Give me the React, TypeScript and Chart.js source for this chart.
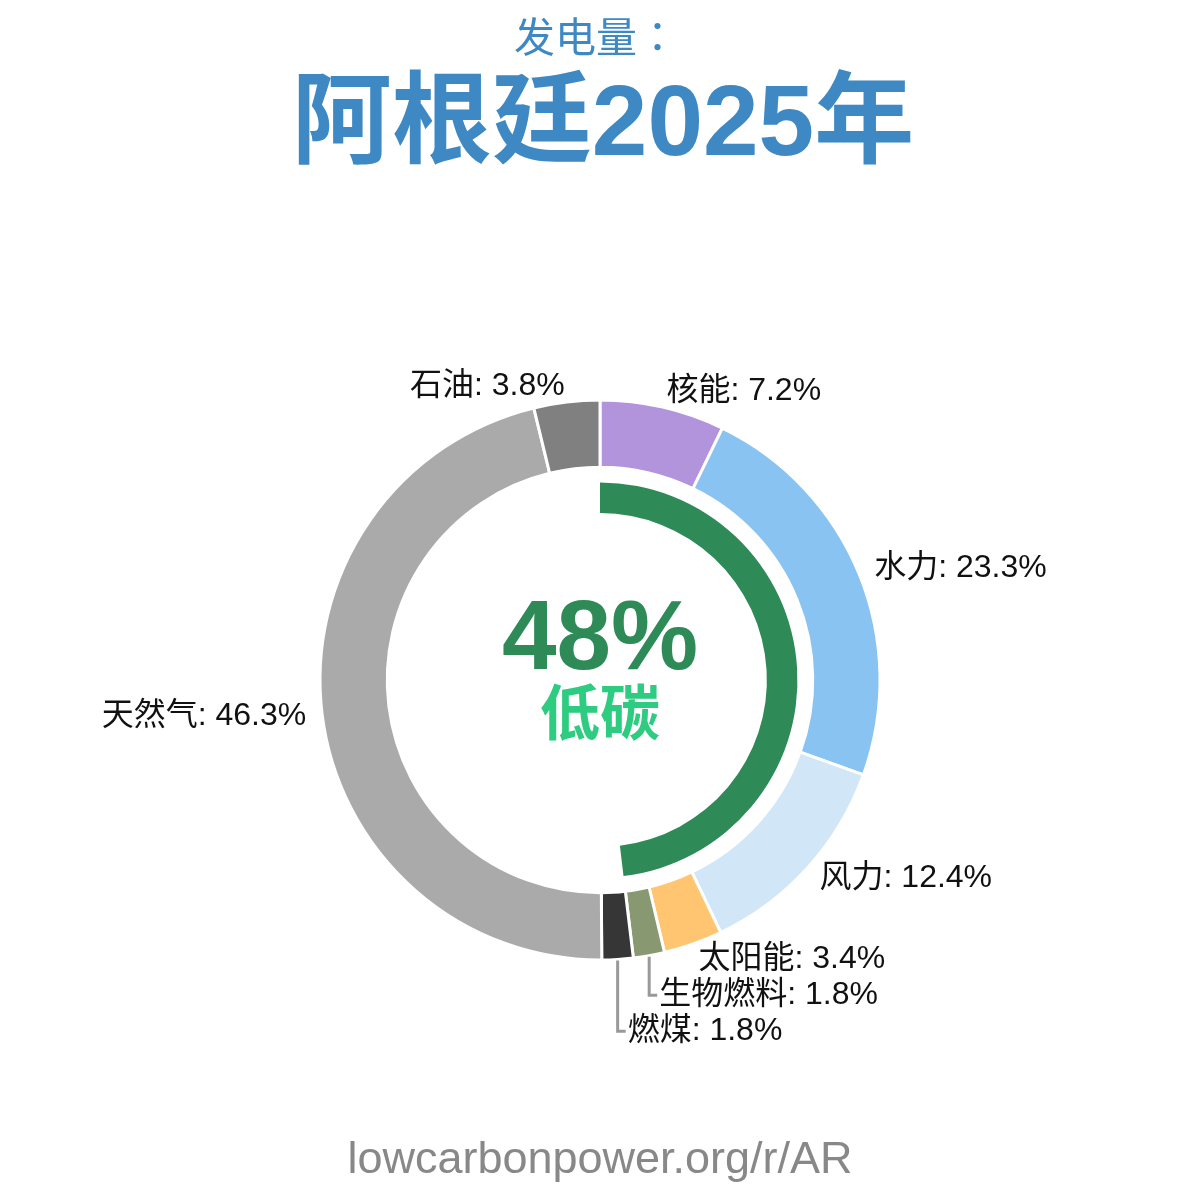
import React, { useEffect, useRef } from "react";
import { Chart, registerables } from "chart.js";

Chart.register(...registerables);

const categories = ["核能", "水力", "风力", "太阳能", "生物燃料", "燃煤", "天然气", "石油"];
const shares = [7.2, 23.3, 12.4, 3.4, 1.8, 1.8, 46.3, 3.8];
const colors = ["#b294dc", "#89c3f2", "#d1e6f7", "#ffc570", "#889871", "#363636", "#aaaaaa", "#808080"];
const lowCarbonShare = [48.1, 51.9];
const lowCarbonLabel = "48%";
const subtitle = "发电量：";
const title = "阿根廷2025年";
const centerSub = "低碳";
const footer = "lowcarbonpower.org/r/AR";

const FONT = '"Liberation Sans", Arial, "Noto Sans CJK SC", sans-serif';
const CJK_FONT = '"Noto Sans CJK JP", "Noto Sans CJK SC", sans-serif';

const textPlugin = {
  id: "textPlugin",
  afterDraw(chart: any) {
    const ctx = chart.ctx as CanvasRenderingContext2D;
    const meta = chart.getDatasetMeta(0);
    ctx.save();
    // titles
    ctx.textAlign = "center";
    ctx.textBaseline = "middle";
    ctx.fillStyle = "#3e89c4";
    ctx.font = `41px ${CJK_FONT}`;
    ctx.fillText(subtitle, 596, 36);
    ctx.font = `bold 100px ${FONT}`;
    ctx.fillText(title, 603, 127);
    // footer
    ctx.fillStyle = "#888888";
    ctx.font = `45px ${FONT}`;
    ctx.fillText(footer, 600, 1161);

    const first = meta.data[0];
    const cx = first.x;
    const cy = first.y;
    // center text
    ctx.fillStyle = "#2e8b57";
    ctx.font = `bold 98px ${FONT}`;
    ctx.fillText(lowCarbonLabel, cx, cy - 38);
    ctx.fillStyle = "#2ecc80";
    ctx.font = `bold 60px ${FONT}`;
    ctx.fillText(centerSub, cx, cy + 38);

    // labels
    ctx.font = `32px ${FONT}`;
    let prevBottomY = -Infinity;
    meta.data.forEach((arc: any, i: number) => {
      const { x, y, startAngle, endAngle, outerRadius } = arc.getProps(
        ["x", "y", "startAngle", "endAngle", "outerRadius"],
        true
      );
      const mid = (startAngle + endAngle) / 2;
      const r = outerRadius + 16;
      const cos = Math.cos(mid);
      const sin = Math.sin(mid);
      let px = x + cos * r;
      let py = y + sin * r;
      const text = `${categories[i]}: ${shares[i]}%`;
      ctx.fillStyle = "#111111";
      ctx.textBaseline = "middle";
      const bottomRight = cos > 0 && sin > 0;
      const bottomAny = sin > 0.9;
      if ((bottomRight || bottomAny) && cos > -0.05) {
        if (py < prevBottomY + 36) {
          const newY = prevBottomY + 36;
          const lx = x + cos * (outerRadius + 1);
          const ly = y + sin * (outerRadius + 1);
          ctx.strokeStyle = "#999999";
          ctx.lineWidth = 3;
          ctx.beginPath();
          ctx.moveTo(lx, ly);
          ctx.lineTo(lx, newY);
          ctx.lineTo(lx + 8, newY);
          ctx.stroke();
          px = lx + 10;
          py = newY;
        }
        prevBottomY = py;
      }
      ctx.textAlign = cos >= 0 ? "left" : "right";
      ctx.fillText(text, px, py);
    });
    ctx.restore();
  },
};

export default function App() {
  const ref = useRef<HTMLCanvasElement | null>(null);
  useEffect(() => {
    if (!ref.current) return;
    const chart = new Chart(ref.current, {
      type: "doughnut",
      data: {
        labels: categories,
        datasets: [
          {
            data: shares,
            backgroundColor: colors,
            borderColor: "#ffffff",
            borderWidth: 3,
            weight: 66,
          } as any,
          {
            data: [1],
            backgroundColor: "rgba(0,0,0,0)",
            borderWidth: 0,
            weight: 15,
          } as any,
          {
            data: lowCarbonShare,
            backgroundColor: ["#2e8b57", "rgba(0,0,0,0)"],
            borderWidth: 0,
            weight: 30,
          } as any,
        ],
      },
      options: {
        responsive: false,
        animation: false,
        cutout: "59.6%",
        layout: { padding: { left: 318.5, right: 318.5, top: 398.5, bottom: 238.5 } },
        plugins: { legend: { display: false }, tooltip: { enabled: false } },
        events: [],
      },
      plugins: [textPlugin],
    });
    return () => chart.destroy();
  }, []);
  return (
    <div style={{ position: "fixed", left: 0, top: 0, width: 1200, height: 1200, background: "#ffffff" }}>
      <canvas ref={ref} width={1200} height={1200} style={{ width: 1200, height: 1200 }} />
    </div>
  );
}
